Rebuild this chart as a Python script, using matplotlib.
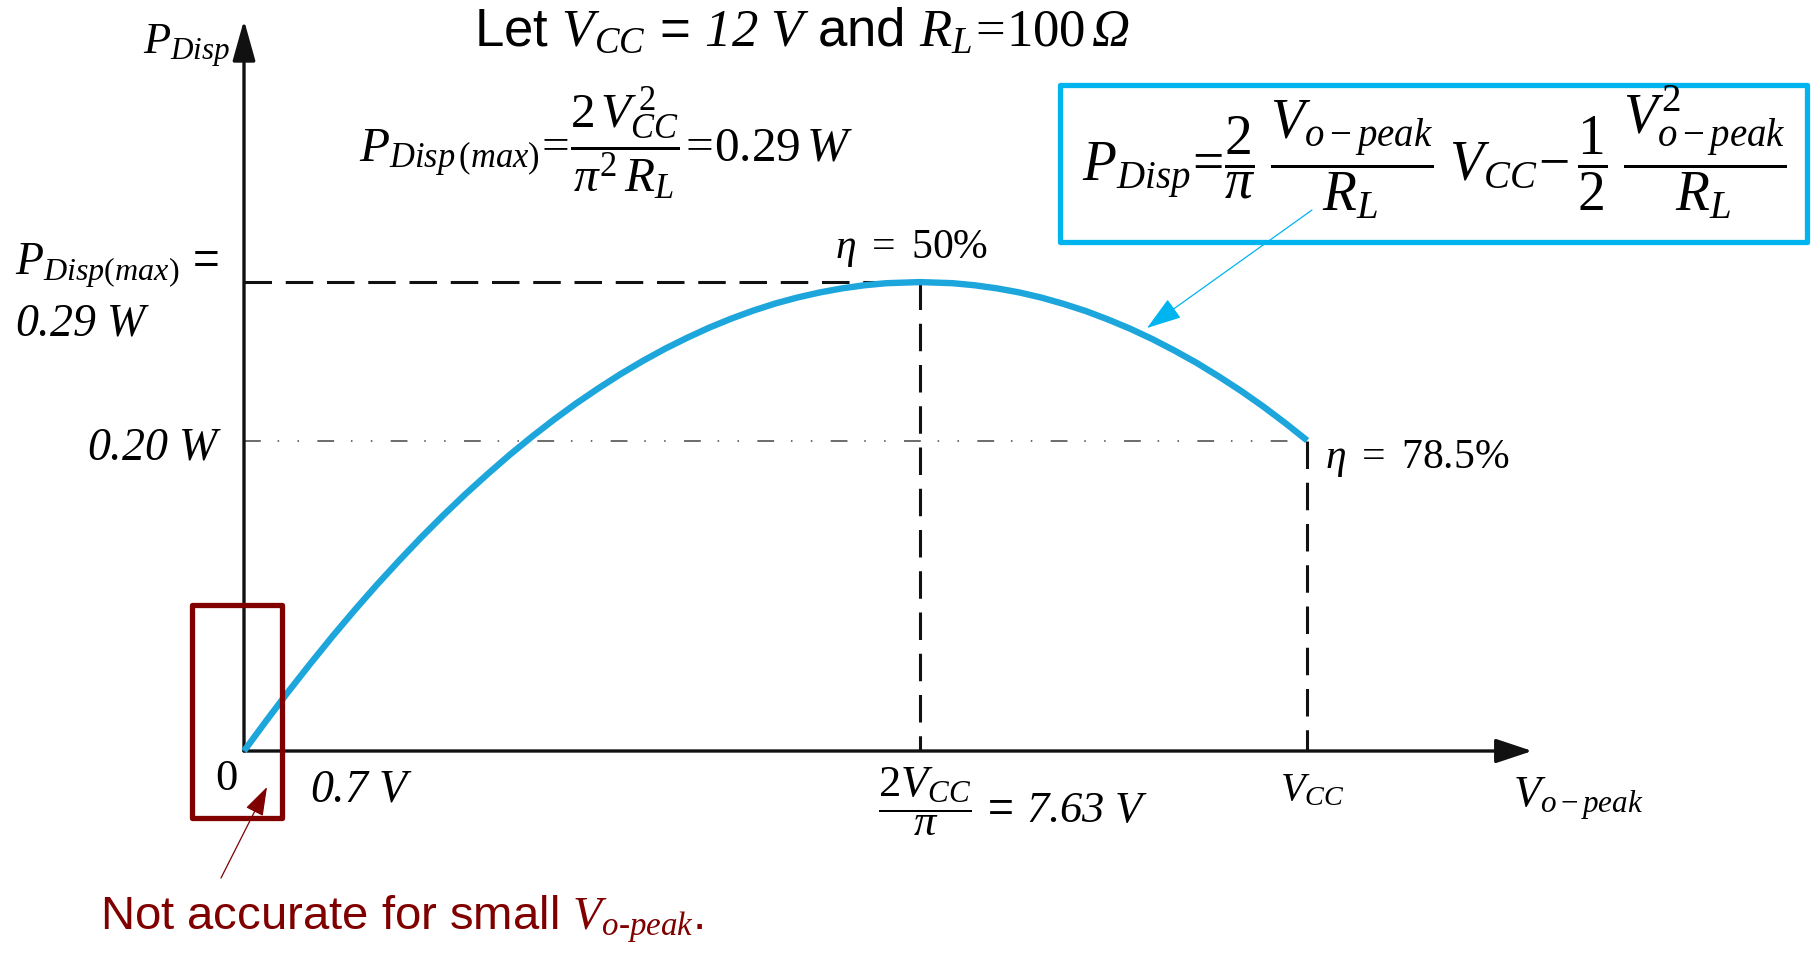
import numpy as np
import matplotlib
matplotlib.use("Agg")
import matplotlib.pyplot as plt
from matplotlib.patches import Rectangle

plt.rcParams['font.family'] = ['Liberation Sans', 'DejaVu Sans']
plt.rcParams['mathtext.fontset'] = 'custom'
plt.rcParams['mathtext.rm'] = 'Liberation Serif'
plt.rcParams['mathtext.it'] = 'Liberation Serif:italic'
plt.rcParams['mathtext.bf'] = 'Liberation Serif:bold'
plt.rcParams['mathtext.sf'] = 'Liberation Sans'
# \mathit forces digits upright, so \mathcal is used for italic numbers
plt.rcParams['mathtext.cal'] = 'Liberation Serif:italic'

# dissipated power curve: V_o-peak (V) -> P_Disp (W)
v_peak = [0, 0.25, 0.5, 0.75, 1, 1.25, 1.5, 1.75, 2, 2.25, 2.5, 2.75, 3, 3.25,
          3.5, 3.75, 4, 4.25, 4.5, 4.75, 5, 5.25, 5.5, 5.75, 6, 6.25, 6.5, 6.75,
          7, 7.25, 7.63, 8, 8.25, 8.5, 8.75, 9, 9.25, 9.5, 9.75, 10, 10.25, 10.5,
          10.75, 11, 11.25, 11.5, 11.75, 12]
p_disp = [0.0000, 0.0186, 0.0367, 0.0541, 0.0710, 0.0872, 0.1028, 0.1177, 0.1321,
          0.1458, 0.1589, 0.1713, 0.1832, 0.1944, 0.2050, 0.2150, 0.2243, 0.2331,
          0.2412, 0.2487, 0.2555, 0.2618, 0.2674, 0.2724, 0.2768, 0.2805, 0.2836,
          0.2861, 0.2880, 0.2893, 0.2900, 0.2893, 0.2880, 0.2861, 0.2836, 0.2804,
          0.2765, 0.2721, 0.2669, 0.2612, 0.2548, 0.2477, 0.2401, 0.2317, 0.2228,
          0.2132, 0.2029, 0.1920]

# where the drawn axis arrows stop
x_axis_end = 14.54
y_axis_end = 0.452

CURVE_BLUE = '#1DA6DC'
BOX_BLUE = '#00B4F0'
DARK_RED = '#800000'

W, H = 1816, 957
fig = plt.figure(figsize=(W / 100, H / 100), dpi=100)
ax = fig.add_axes([0, 0, 1, 1])
# 88.6 px per volt, 1617 px per watt, origin at pixel (244, 751)
ax.set_xlim(-244 / 88.6, (W - 244) / 88.6)
ax.set_ylim((751 - H) / 1617, 751 / 1617)
ax.axis('off')


def fp(x, y):
    # pixel (from top-left) -> figure fraction
    return (x / W, 1 - y / H)


def ftext(x, y, s, **kw):
    kw.setdefault('va', 'baseline')
    kw.setdefault('fontsize', 32)
    fig.text(*fp(x, y), s, **kw)


# axes drawn as arrows
ax.annotate('', xy=(x_axis_end, 0), xytext=(0, 0),
            arrowprops=dict(arrowstyle='-|>,head_length=0.9,head_width=0.3', mutation_scale=25,
                            lw=2.4, color='#111111', shrinkA=0, shrinkB=0))
ax.annotate('', xy=(0, y_axis_end), xytext=(0, 0),
            arrowprops=dict(arrowstyle='-|>,head_length=1.0,head_width=0.28', mutation_scale=25,
                            lw=2.4, color='#111111', shrinkA=0, shrinkB=0))

# guide lines
i_max = int(np.argmax(p_disp))
dash = (0, (9, 4.5))
ax.plot([0, v_peak[i_max]], [p_disp[i_max]] * 2, color='#111111', lw=2.2, ls=dash)
ax.plot([v_peak[i_max]] * 2, [p_disp[i_max], 0], color='#111111', lw=2.2, ls=dash)
ax.plot([v_peak[-1]] * 2, [p_disp[-1], 0], color='#111111', lw=2.2, ls=dash)
ax.plot([0, v_peak[-1]], [p_disp[-1]] * 2, color='#444444', lw=1.1,
        ls=(0, (11, 11, 1, 12, 1, 12)))

ax.plot(v_peak, p_disp, color=CURVE_BLUE, lw=4.6, solid_capstyle='butt',
        solid_joinstyle='round', zorder=3)

# texts
ftext(143, 54, r'$P_{Disp}$', fontsize=32)
ftext(474, 46, r'Let $V_{CC}$ = $\mathcal{12\ V}$ and $R_L\!=\!100\,\mathcal{\Omega}$', fontsize=38)
ftext(359, 161, r'$P_{Disp\,(max)}\!=\!\dfrac{2\,V_{CC}^{\,2}}{\pi^2\,R_L}\!=\!0.29\,W$', fontsize=35.5)
ftext(1082, 182, r'$P_{Disp}\!=\!\dfrac{2}{\pi}\;\dfrac{V_{o-peak}}{R_L}\;V_{CC}\!-\!\,'
                 r'\dfrac{1}{2}\;\dfrac{V_{o-peak}^{2}}{R_L}$', fontsize=40)
ftext(15, 275, r'$P_{Disp(max)}$ =', fontsize=33)
ftext(15, 335, r'$\mathcal{0.29\ W}$', fontsize=33)
ftext(222, 460, r'$\mathcal{0.20\ W}$', ha='right', fontsize=33)
ftext(835, 258, r'$\eta\ =\ 50\%$', fontsize=30)
ftext(1325, 468, r'$\eta\ =\ 78.5\%$', fontsize=30)
ftext(215, 790, r'$0$')
ftext(310, 802, r'$\mathcal{0.7\ V}$', fontsize=33)
ftext(878, 822, r'$\dfrac{2V_{CC}}{\pi}$ = $\mathcal{7.63\ V}$', fontsize=32)
ftext(1280, 800, r'$V_{CC}$', fontsize=29)
ftext(1513, 807, r'$V_{o-peak}$', fontsize=32)
ftext(100, 930, 'Not accurate for small $V_{\\mathit{o\u2010peak}}$.', color=DARK_RED, fontsize=34)

# boxed formula and its pointer
fig.add_artist(Rectangle(fp(1060, 242), (1807 - 1060) / W, (242 - 85) / H,
                         transform=fig.transFigure, fill=False, ec=BOX_BLUE, lw=3.8,
                         joinstyle='round'))
ax.annotate('', xy=fp(1147, 328), xytext=fp(1312, 210),
            xycoords='figure fraction', textcoords='figure fraction',
            arrowprops=dict(arrowstyle='-|>,head_length=1.0,head_width=0.33', mutation_scale=22,
                            lw=0.9, color=BOX_BLUE, shrinkA=0, shrinkB=0))

# small-signal warning
fig.add_artist(Rectangle(fp(192, 818), (282 - 192) / W, (818 - 605) / H,
                         transform=fig.transFigure, fill=False, ec=DARK_RED, lw=3.8,
                         joinstyle='round'))
ax.annotate('', xy=fp(267, 787), xytext=fp(221, 878),
            xycoords='figure fraction', textcoords='figure fraction',
            arrowprops=dict(arrowstyle='-|>,head_length=0.9,head_width=0.3', mutation_scale=20,
                            lw=0.9, color=DARK_RED, shrinkA=0, shrinkB=0))

fig.savefig('out.png', dpi=100)
